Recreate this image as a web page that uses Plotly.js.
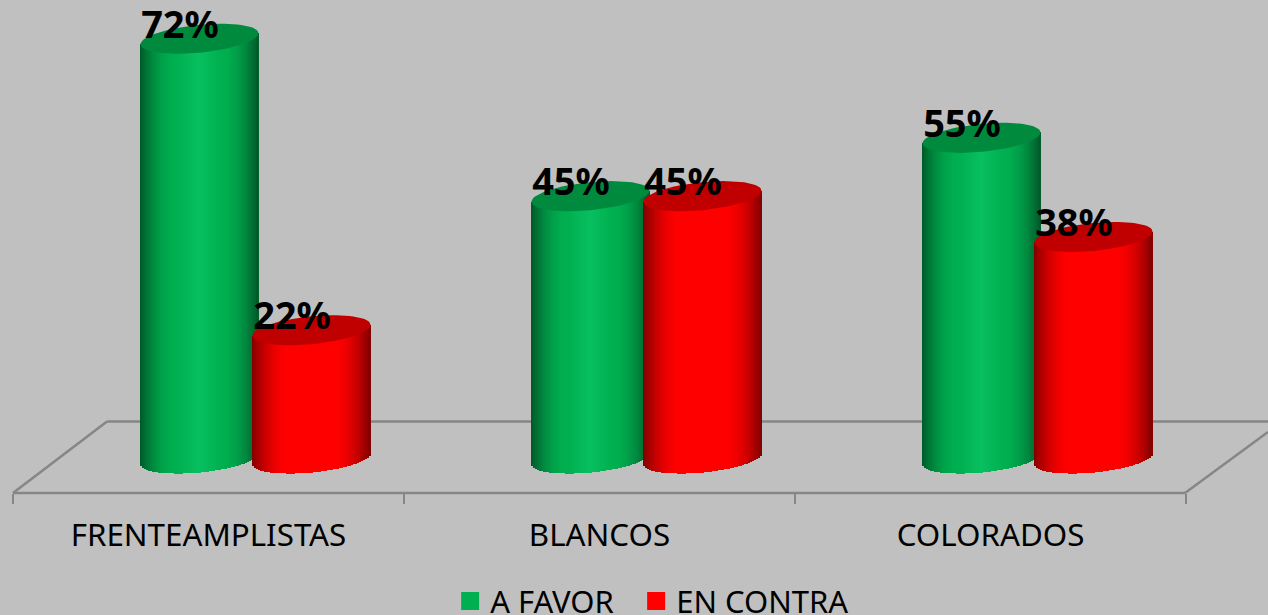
<!DOCTYPE html>
<html>
<head>
<meta charset="utf-8">
<script src="https://cdn.plot.ly/plotly-3.0.1.min.js"></script>
<style>html,body{margin:0;padding:0;background:#c0c0c0;overflow:hidden}</style>
</head>
<body>
<div id="chart" style="width:1268px;height:615px"></div>
<script>
// Data
var categories = ["FRENTEAMPLISTAS", "BLANCOS", "COLORADOS"];
var aFavor = [72, 45, 55];
var enContra = [22, 45, 38];
var seriesNames = ["A FAVOR", "EN CONTRA"];

// Style
var FONT = '"Noto Sans", Tahoma, sans-serif';
var W = 1268, PLOT_H = 493, PX_PER_UNIT = 5.83, ZERO_PY = 458.5, CAT_STEP = 391, CAT0_PX = 208.5;
var yRange = [(ZERO_PY - PLOT_H) / PX_PER_UNIT, ZERO_PY / PX_PER_UNIT];
var xRange = [-CAT0_PX / CAT_STEP, (W - CAT0_PX) / CAT_STEP];
var NSLICE = 59;
var RW = 118 / CAT_STEP / 2;          // cylinder half width, in category units
var RY = 14 / PX_PER_UNIT;            // ellipse half height, value units
var SHEAR = 5.5 / PX_PER_UNIT;        // tilt of the ellipse
var seriesStyle = [
  {off: -9 / CAT_STEP, base: [0, 176, 80], hi: [8, 192, 96], top: "#008a3e"},
  {off: 103 / CAT_STEP, base: [255, 0, 0], hi: [255, 0, 0], top: "#c00000"}
];

function shade(st, t) {
  var a = Math.abs(t);
  var k = a > 0.35 ? 1 - 0.5 * Math.pow((a - 0.35) / 0.65, 2) : 1;
  var h = Math.max(0, 1 - a / 0.35);
  var c = [];
  for (var i = 0; i < 3; i++) {
    c.push(Math.round((st.base[i] + (st.hi[i] - st.base[i]) * h) * k));
  }
  return "rgb(" + c.join(",") + ")";
}

function bodyTrace(values, st, name) {
  var x = [], y = [], base = [], width = [], color = [];
  values.forEach(function (v, c) {
    for (var n = 0; n < NSLICE; n++) {
      var t = -1 + (2 * n + 1) / NSLICE;
      var s = Math.sqrt(1 - t * t);
      var b = -RY * s + SHEAR * t;
      x.push(c + st.off + t * RW);
      base.push(b);
      y.push(v + SHEAR * t - b);
      width.push(2 * RW / NSLICE * 1.02);
      color.push(shade(st, t));
    }
  });
  return {type: "bar", x: x, y: y, base: base, width: width, name: name,
    marker: {color: color, line: {width: 0}}, showlegend: false, hoverinfo: "skip"};
}

function topTrace(values, st, name) {
  var x = [], y = [];
  values.forEach(function (v, c) {
    for (var n = 0; n <= 72; n++) {
      var a = Math.PI * 2 * n / 72;
      var t = Math.cos(a), s = Math.sin(a);
      x.push(c + st.off + t * RW);
      y.push(v + RY * s + SHEAR * t);
    }
    x.push(null); y.push(null);
  });
  return {type: "scatter", mode: "lines", x: x, y: y, fill: "toself", fillcolor: st.top,
    line: {width: 0, color: st.top}, showlegend: false, hoverinfo: "skip", name: name};
}

function labelTrace(values, st, name) {
  return {type: "scatter", mode: "text", name: name, showlegend: false, hoverinfo: "skip",
    x: values.map(function (v, c) { return c + st.off - 19.5 / CAT_STEP; }),
    y: values.map(function (v) { return v + 1.8; }),
    text: values.map(function (v) { return v + "%"; }),
    textposition: "middle center",
    textfont: {family: FONT, size: 38, color: "#000", weight: 700},
    cliponaxis: false};
}

function legendTrace(name, color, legendId) {
  return {type: "scatter", mode: "markers", x: [null], y: [null], name: name, showlegend: true, legend: legendId,
    marker: {symbol: "square", size: 16, color: color, line: {width: 2, color: color}}};
}

var data = [
  bodyTrace(aFavor, seriesStyle[0], seriesNames[0]),
  bodyTrace(enContra, seriesStyle[1], seriesNames[1]),
  topTrace(aFavor, seriesStyle[0], seriesNames[0]),
  topTrace(enContra, seriesStyle[1], seriesNames[1]),
  labelTrace(aFavor, seriesStyle[0], seriesNames[0]),
  labelTrace(enContra, seriesStyle[1], seriesNames[1]),
  legendTrace(seriesNames[0], "#00b050", "legend"),
  legendTrace(seriesNames[1], "#ff0000", "legend2")
];

function px(x) { return x / W; }
function py(y) { return 1 - y / PLOT_H; }
var floorLine = {color: "#868686", width: 2.5};
function seg(x0, y0, x1, y1) {
  return {type: "line", xref: "paper", yref: "paper", layer: "below",
    x0: px(x0), y0: py(y0), x1: px(x1), y1: py(y1), line: floorLine};
}

function legendAt(xFrac) {
  return {orientation: "h", x: xFrac, xanchor: "left", y: -0.165, yanchor: "top",
    font: {family: FONT, size: 31, color: "#000"}, bgcolor: "rgba(0,0,0,0)"};
}

var layout = {
  width: W, height: 615,
  margin: {l: 0, r: 0, t: 0, b: 615 - PLOT_H, autoexpand: false},
  paper_bgcolor: "#c0c0c0", plot_bgcolor: "rgba(0,0,0,0)",
  barmode: "overlay", bargap: 0,
  showlegend: true,
  legend: legendAt(0.355),
  legend2: legendAt(0.355 + 186 / W),
  xaxis: {type: "linear", range: xRange, fixedrange: true, showgrid: false, zeroline: false, showline: false,
    tickmode: "array", tickvals: [0, 1, 2], ticktext: categories, ticks: "", ticklabelstandoff: 21,
    tickfont: {family: FONT, size: 31.3, color: "#000"},
    minor: {tickmode: "array", tickvals: [-0.5, 0.5, 1.5, 2.5], ticks: "outside", ticklen: 10, tickwidth: 2, tickcolor: "#868686", showgrid: false}},
  yaxis: {range: yRange, fixedrange: true, visible: false},
  shapes: [
    seg(13, 493, 1185, 493),
    seg(13, 493, 107, 421.5),
    seg(107, 421.5, 1268, 421.5),
    seg(1185, 493, 1268, 432)
  ]
};
Plotly.newPlot("chart", data, layout, {displayModeBar: false, staticPlot: true});
</script>
</body>
</html>
